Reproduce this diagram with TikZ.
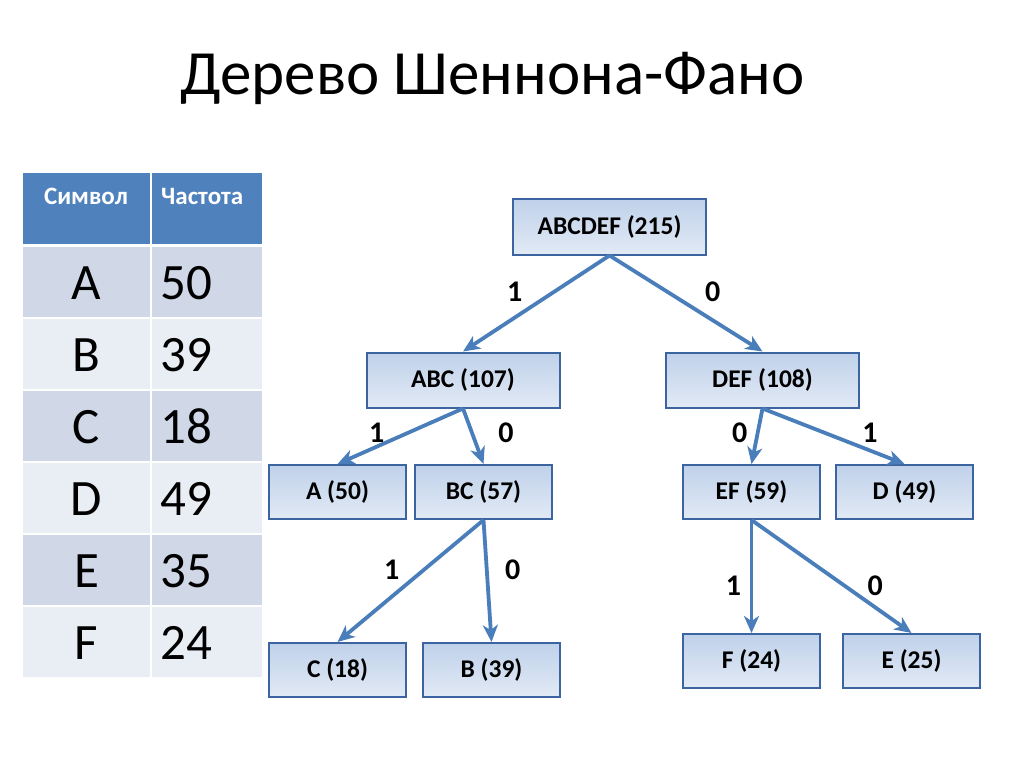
\documentclass[tikz,border=0pt]{standalone}
\usepackage{fontspec}
\setmainfont{Carlito}
\usetikzlibrary{arrows.meta}
\definecolor{hdrblue}{HTML}{4F81BD}
\definecolor{rowdark}{HTML}{D0D8E8}
\definecolor{rowlight}{HTML}{E9EDF4}
\definecolor{boxline}{HTML}{3C64A0}
\definecolor{boxtop}{HTML}{BFD1EA}
\definecolor{boxbot}{HTML}{E2EAF5}
\definecolor{edgeblue}{HTML}{4A7EBB}

\begin{document}
\begin{tikzpicture}[x=1pt,y=-1pt,
                    >={Stealth[length=17pt,width=15pt,inset=5pt]}]
  \tikzstyle{tree}=[draw=boxline,line width=2pt,top color=boxtop,bottom color=boxbot,
                    font=\fontsize{25.5}{30}\selectfont\bfseries]
  \tikzstyle{big}=[tree,minimum width=193pt,minimum height=55pt]
  \tikzstyle{small}=[tree,minimum width=137pt,minimum height=54pt]
  \tikzstyle{branch}=[->,draw=edgeblue,line width=3.8pt]
  \tikzstyle{lbl}=[font=\fontsize{30}{34}\selectfont\bfseries,inner sep=0pt]
  \tikzstyle{cell}=[inner sep=0pt,anchor=base,font=\fontsize{51}{60}\selectfont]
  \tikzstyle{head}=[inner sep=0pt,anchor=base,text=white,font=\fontsize{25}{29}\selectfont\bfseries]

  \useasboundingbox[fill=white] (0,0) rectangle (1024,767);

  \node[anchor=base west,inner sep=0pt] (title) at (180,95) {\fontsize{63}{75}\selectfont Дерево Шеннона-Фано};

  % table
  \fill[hdrblue] (23,173) rectangle (150,244);
  \fill[hdrblue] (152,173) rectangle (262,244);
  \node[head] (hsym) at (86,205) {Символ};
  \node[head,anchor=base west] (hfrq) at (161,205) {Частота};
  \foreach \s/\f [count=\i] in {A/50,B/39,C/18,D/49,E/35,F/24} {
    \ifodd\i \def\rowcol{rowdark}\else\def\rowcol{rowlight}\fi
    \pgfmathsetmacro\ytop{247+72*(\i-1)}
    \fill[\rowcol] (23,\ytop) rectangle (150,\ytop+70);
    \fill[\rowcol] (152,\ytop) rectangle (262,\ytop+70);
    \node[cell] (s\i) at (86.5,\ytop+52) {\s};
    \node[cell,anchor=base west] (f\i) at (160,\ytop+52) {\f};
  }

  % tree
  \node[big]   (root) at (609.5,227) {ABCDEF (215)};
  \node[big]   (abc)  at (463,380)   {ABC (107)};
  \node[big]   (def)  at (762.5,380) {DEF (108)};
  \node[small] (a)    at (337.5,492) {A (50)};
  \node[small] (bc)   at (483.5,492) {BC (57)};
  \node[small] (ef)   at (751.5,492) {EF (59)};
  \node[small] (d)    at (904.5,492) {D (49)};
  \node[small] (c)    at (337.5,670) {C (18)};
  \node[small] (b)    at (491.5,670) {B (39)};
  \node[small] (f)    at (751.5,661) {F (24)};
  \node[small] (e)    at (911.5,661) {E (25)};

  \path (root.south) edge[branch] node[lbl,pos=.38,xshift=-39pt] {1} (abc.north)
        (root.south) edge[branch] node[lbl,pos=.38,xshift=45pt]  {0} (def.north)
        (abc.south)  edge[branch] node[lbl,pos=.44,xshift=-31pt] {1} (a.north)
        (abc.south)  edge[branch] node[lbl,pos=.44,xshift=34pt]  {0} (bc.north)
        (def.south)  edge[branch] node[lbl,pos=.44,xshift=-18pt] {0} (ef.north)
        (def.south)  edge[branch] node[lbl,pos=.44,xshift=45pt]  {1} (d.north)
        (bc.south)   edge[branch] node[lbl,pos=.41,xshift=-32pt] {1} (c.north)
        (bc.south)   edge[branch] node[lbl,pos=.41,xshift=26pt]  {0} (b.north)
        (ef.south)   edge[branch] node[lbl,pos=.58,xshift=-18pt] {1} (f.north)
        (ef.south)   edge[branch] node[lbl,pos=.58,xshift=31pt]  {0} (e.north);

\end{tikzpicture}
\end{document}
